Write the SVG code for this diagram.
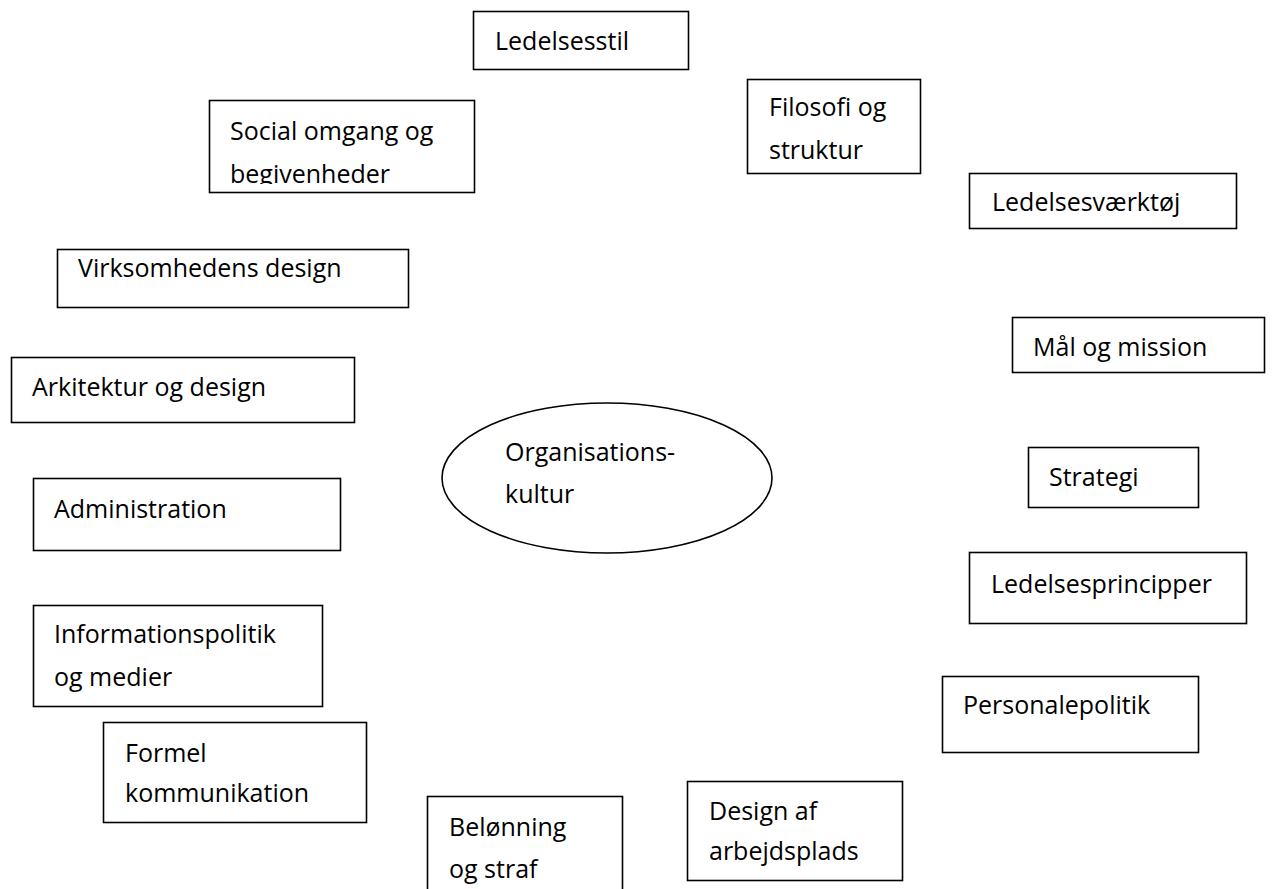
<svg xmlns="http://www.w3.org/2000/svg" width="1272" height="889" viewBox="0 0 1272 889">
<style>
.box{fill:#fff;stroke:#000;stroke-width:1.6}
.t{font-family:"Open Sans","Liberation Sans",sans-serif;font-size:25px;fill:#000}
</style>
<defs>
<clipPath id="clipSocial"><rect x="209" y="101" width="265" height="83"/></clipPath>
</defs>
<rect width="1272" height="889" fill="#fff"/>
<g id="connectors"></g>
<g id="n-ledelsesstil"><rect class="box" x="473.5" y="11.5" width="215" height="58"/><text class="t" x="495" y="50">Ledelsesstil</text></g>
<g id="n-social"><rect class="box" x="209.5" y="100.5" width="265" height="92"/><g clip-path="url(#clipSocial)"><text class="t" x="230" y="140">Social omgang og</text><text class="t" x="230" y="183">begivenheder</text></g></g>
<g id="n-filosofi"><rect class="box" x="747.5" y="79.5" width="173" height="94"/><text class="t" x="769" y="116">Filosofi og</text><text class="t" x="769" y="159">struktur</text></g>
<g id="n-vaerktoej"><rect class="box" x="969.5" y="173.5" width="267" height="55"/><text class="t" x="992" y="211">Ledelsesværktøj</text></g>
<g id="n-virksomhed"><rect class="box" x="57.5" y="249.5" width="351" height="58"/><text class="t" x="78" y="277">Virksomhedens design</text></g>
<g id="n-maal"><rect class="box" x="1012.5" y="317.5" width="252" height="55"/><text class="t" x="1033" y="356">Mål og mission</text></g>
<g id="n-arkitektur"><rect class="box" x="11.5" y="357.5" width="343" height="65"/><text class="t" x="32" y="396">Arkitektur og design</text></g>
<g id="n-org"><ellipse cx="607" cy="478" rx="165" ry="75" fill="#fff" stroke="#000" stroke-width="1.6"/><text class="t" x="505" y="461">Organisations-</text><text class="t" x="505" y="503">kultur</text></g>
<g id="n-strategi"><rect class="box" x="1028.5" y="447.5" width="170" height="60"/><text class="t" x="1049" y="486">Strategi</text></g>
<g id="n-administration"><rect class="box" x="33.5" y="478.5" width="307" height="72"/><text class="t" x="54" y="518">Administration</text></g>
<g id="n-principper"><rect class="box" x="969.5" y="552.5" width="277" height="71"/><text class="t" x="991" y="593">Ledelsesprincipper</text></g>
<g id="n-information"><rect class="box" x="33.5" y="605.5" width="289" height="101"/><text class="t" x="54" y="643">Informationspolitik</text><text class="t" x="54" y="686">og medier</text></g>
<g id="n-personale"><rect class="box" x="942.5" y="676.5" width="256" height="76"/><text class="t" x="963" y="714">Personalepolitik</text></g>
<g id="n-formel"><rect class="box" x="103.5" y="722.5" width="263" height="100"/><text class="t" x="125" y="762">Formel</text><text class="t" x="125" y="802">kommunikation</text></g>
<g id="n-design-arbejdsplads"><rect class="box" x="687.5" y="781.5" width="215" height="99"/><text class="t" x="709" y="820">Design af</text><text class="t" x="709" y="860">arbejdsplads</text></g>
<g id="n-beloenning"><rect class="box" x="427.5" y="796.5" width="195" height="110"/><text class="t" x="449" y="836">Belønning</text><text class="t" x="449" y="878">og straf</text></g>
</svg>
